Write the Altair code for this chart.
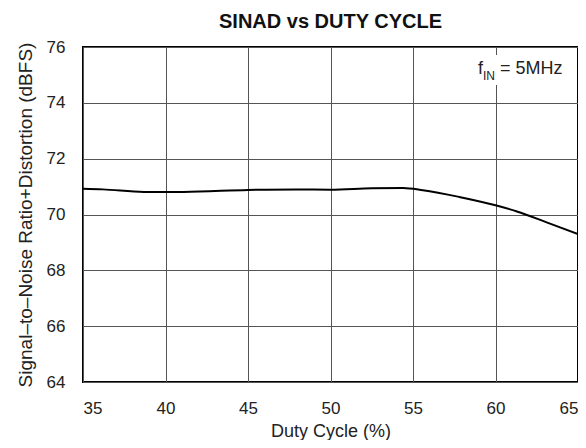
import altair as alt
import pandas as pd

duty = [35, 36.2, 38.7, 41.1, 45, 47.9, 50, 52.5, 54.4, 55.6, 57.8, 60, 61.3, 63.1, 65]
sinad = [70.92, 70.9, 70.81, 70.81, 70.88, 70.9, 70.89, 70.94, 70.95, 70.87, 70.63, 70.33, 70.11, 69.72, 69.3]

x_ticks = [35, 40, 45, 50, 55, 60, 65]
y_ticks = [64, 66, 68, 70, 72, 74, 76]

df = pd.DataFrame({"duty": duty, "sinad": sinad})

FONT = "Liberation Sans"
TXT = "#222"

xs = alt.Scale(domain=[35, 65], nice=False, zero=False)
ys = alt.Scale(domain=[64, 76], nice=False, zero=False)

line = alt.Chart(df).mark_line(color="black", strokeWidth=2, interpolate="monotone").encode(
    x=alt.X("duty:Q", scale=xs,
            axis=alt.Axis(values=x_ticks, title="Duty Cycle (%)", grid=True, ticks=False,
                          domain=False, labelPadding=18, titlePadding=6,
                          labelFontSize=17, titleFontSize=18, labelFont=FONT, titleFont=FONT,
                          labelColor=TXT, titleColor=TXT, titleFontWeight="normal",
                          gridColor="#555", gridWidth=1, gridOpacity=1)),
    y=alt.Y("sinad:Q", scale=ys,
            axis=alt.Axis(values=y_ticks, title="Signal\u2013to\u2013Noise Ratio+Distortion (dBFS)",
                          grid=True, ticks=False, domain=False, labelPadding=18, titlePadding=11,
                          labelFontSize=17, titleFontSize=19, labelFont=FONT, titleFont=FONT,
                          labelColor=TXT, titleColor=TXT, titleFontWeight="normal",
                          gridColor="#555", gridWidth=1, gridOpacity=1)),
)

bg = alt.Chart(pd.DataFrame({"k": [0]})).mark_rect(color="white").encode(
    x=alt.value(391), x2=alt.value(487), y=alt.value(8), y2=alt.value(38))

ann_f = alt.Chart(pd.DataFrame({"t": ["f"]})).mark_text(
    font=FONT, fontSize=18, align="left", baseline="middle", color=TXT
).encode(x=alt.value(395), y=alt.value(22), text="t:N")
ann_sub = alt.Chart(pd.DataFrame({"t": ["IN"]})).mark_text(
    font=FONT, fontSize=12, align="left", baseline="middle", color=TXT
).encode(x=alt.value(400), y=alt.value(29), text="t:N")
ann_rest = alt.Chart(pd.DataFrame({"t": ["= 5MHz"]})).mark_text(
    font=FONT, fontSize=18, align="left", baseline="middle", color=TXT
).encode(x=alt.value(417), y=alt.value(22), text="t:N")

chart = alt.layer(bg, line, ann_f, ann_sub, ann_rest).properties(
    width=495, height=335,
    title=alt.TitleParams("SINAD vs DUTY CYCLE", font=FONT, fontSize=20, fontWeight="bold",
                          color="#111", offset=6, anchor="middle"),
    autosize=alt.AutoSizeParams(type="none"),
    padding={"left": 75, "top": 39, "right": 0, "bottom": 58},
).configure_view(stroke="black", strokeWidth=2)

chart.save("out.html", embed_options={"renderer": "svg", "actions": False})
